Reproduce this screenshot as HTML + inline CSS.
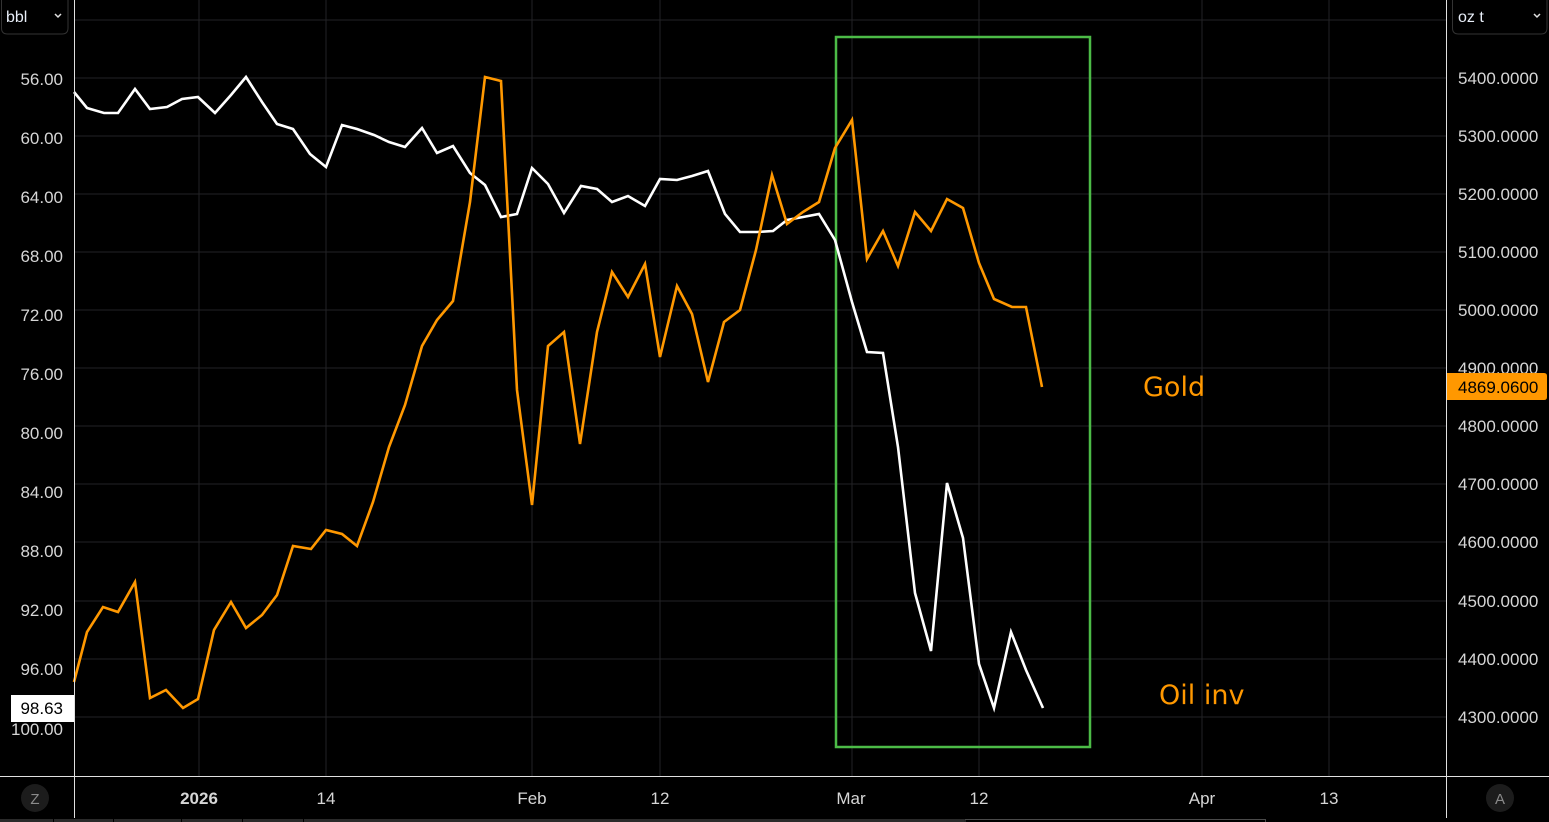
<!DOCTYPE html>
<html><head><meta charset="utf-8"><style>
html,body{margin:0;padding:0;background:#000;}
svg{display:block;}
text{font-family:"Liberation Sans",sans-serif;}
</style></head><body>
<svg width="1549" height="822" viewBox="0 0 1549 822" xmlns="http://www.w3.org/2000/svg">
<rect width="1549" height="822" fill="#000"/>
<!-- grid -->
<g stroke="#222226" stroke-width="1">
<line x1="74" y1="20" x2="1447" y2="20"/>
<line x1="74" y1="78" x2="1447" y2="78"/>
<line x1="74" y1="136" x2="1447" y2="136"/>
<line x1="74" y1="194" x2="1447" y2="194"/>
<line x1="74" y1="252" x2="1447" y2="252"/>
<line x1="74" y1="310" x2="1447" y2="310"/>
<line x1="74" y1="368" x2="1447" y2="368"/>
<line x1="74" y1="426" x2="1447" y2="426"/>
<line x1="74" y1="484" x2="1447" y2="484"/>
<line x1="74" y1="542" x2="1447" y2="542"/>
<line x1="74" y1="601" x2="1447" y2="601"/>
<line x1="74" y1="659" x2="1447" y2="659"/>
<line x1="74" y1="717" x2="1447" y2="717"/>
<line x1="199" y1="0" x2="199" y2="776"/>
<line x1="326" y1="0" x2="326" y2="776"/>
<line x1="532" y1="0" x2="532" y2="776"/>
<line x1="660" y1="0" x2="660" y2="776"/>
<line x1="852" y1="0" x2="852" y2="776"/>
<line x1="979" y1="0" x2="979" y2="776"/>
<line x1="1202" y1="0" x2="1202" y2="776"/>
<line x1="1329" y1="0" x2="1329" y2="776"/>
</g>
<!-- green box -->
<rect x="836" y="37" width="254" height="710" fill="none" stroke="#4cbb47" stroke-width="2.5"/>
<!-- white line -->
<polyline fill="none" stroke="#ffffff" stroke-width="2.6" stroke-linejoin="miter" points="74,92 87,108 104,113 118,113 135,89 150,109 167,107 182,99 198,97 215,113 231,95 246,77 262,102 277,124 293,129 310,154 326,167 342,125 357,129 374,135 389,142 405,147 422,128 437,153 453,146 470,173 485,185 501,217 517,214 532,168 548,184 564,213 581,186 597,189 612,202 628,196 645,206 660,179 677,180 692,176 708,171 725,214 740,232 757,232 773,231 787,220 803,217 819,214 835,240 852,302 867,352 883,353 898,447 915,593 931,651 947,483 963,538 979,664 994,708 1011,632 1026,670 1043,708"/>
<!-- orange line -->
<polyline fill="none" stroke="#ff9800" stroke-width="2.6" stroke-linejoin="miter" points="74,682 87,632 103,607 118,612 135,582 150,698 166,690 183,708 198,699 214,630 231,602 246,628 262,615 277,595 293,546 311,549 326,530 342,534 357,546 373,502 389,447 405,405 422,346 437,320 453,301 470,202 485,77 501,81 517,390 532,505 548,346 564,332 580,444 597,332 612,272 628,297 645,264 660,357 677,286 692,314 708,382 724,322 740,310 756,250 772,175 787,224 803,212 819,202 835,148 852,120 867,259 883,231 898,266 915,212 931,231 947,199 963,208 979,263 994,299 1012,307 1026,307 1042,387"/>
<!-- annotations -->
<text x="1143" y="396" fill="#ff9800" style="font-family:'DejaVu Sans',sans-serif;font-size:27px;">Gold</text>
<text x="1159" y="704" fill="#ff9800" style="font-family:'DejaVu Sans',sans-serif;font-size:27px;">Oil inv</text>
<!-- axes lines -->
<line x1="74.5" y1="0" x2="74.5" y2="818" stroke="#e0e0e0" stroke-width="1"/>
<line x1="1446.5" y1="0" x2="1446.5" y2="818" stroke="#e0e0e0" stroke-width="1"/>
<line x1="0" y1="776.5" x2="1549" y2="776.5" stroke="#e0e0e0" stroke-width="1"/>
<!-- left axis labels -->
<g fill="#d6d6d6" font-size="17" text-anchor="end">
<text x="63" y="85">56.00</text>
<text x="63" y="144">60.00</text>
<text x="63" y="203">64.00</text>
<text x="63" y="262">68.00</text>
<text x="63" y="321">72.00</text>
<text x="63" y="380">76.00</text>
<text x="63" y="439">80.00</text>
<text x="63" y="498">84.00</text>
<text x="63" y="557">88.00</text>
<text x="63" y="616">92.00</text>
<text x="63" y="675">96.00</text>
<text x="63" y="735">100.00</text>
</g>
<rect x="11" y="695" width="63" height="27" fill="#ffffff"/>
<text x="63" y="714" fill="#000" font-size="17" text-anchor="end">98.63</text>
<!-- right axis labels -->
<g fill="#d6d6d6" font-size="17">
<text x="1458" y="84">5400.0000</text>
<text x="1458" y="142">5300.0000</text>
<text x="1458" y="200">5200.0000</text>
<text x="1458" y="258">5100.0000</text>
<text x="1458" y="316">5000.0000</text>
<text x="1458" y="374">4900.0000</text>
<text x="1458" y="432">4800.0000</text>
<text x="1458" y="490">4700.0000</text>
<text x="1458" y="548">4600.0000</text>
<text x="1458" y="607">4500.0000</text>
<text x="1458" y="665">4400.0000</text>
<text x="1458" y="723">4300.0000</text>
</g>
<path d="M1447 373 H1544 Q1547 373 1547 376 V397 Q1547 400 1544 400 H1447 Z" fill="#ff9800"/>
<text x="1458" y="393" fill="#000" font-size="17">4869.0600</text>
<!-- bottom axis labels -->
<g fill="#d6d6d6" font-size="17" text-anchor="middle">
<text x="199" y="804" font-weight="bold">2026</text>
<text x="326" y="804">14</text>
<text x="532" y="804">Feb</text>
<text x="660" y="804">12</text>
<text x="851" y="804">Mar</text>
<text x="979" y="804">12</text>
<text x="1202" y="804">Apr</text>
<text x="1329" y="804">13</text>
</g>
<!-- Z / A buttons -->
<circle cx="35" cy="798" r="14" fill="#1c1c1c"/>
<text x="35" y="804" fill="#8a8a8a" font-size="15" text-anchor="middle">Z</text>
<circle cx="1500" cy="798" r="14" fill="#1c1c1c"/>
<text x="1500" y="804" fill="#8a8a8a" font-size="15" text-anchor="middle">A</text>
<!-- bottom strip -->
<g fill="#2a2a2a">
<rect x="0" y="819" width="53" height="3"/>
<rect x="54" y="819" width="59" height="3"/>
<rect x="114" y="819" width="67" height="3"/>
<rect x="182" y="819" width="60" height="3"/>
<rect x="243" y="819" width="60" height="3"/>
<rect x="304" y="819" width="660" height="3"/>
</g>
<path d="M965 822 V819.5 H1265.5 V822" fill="none" stroke="#4a4a4a" stroke-width="1"/>
<!-- top dropdowns -->
<path d="M1.5 -2 V28 Q1.5 34 7.5 34 H62 Q68 34 68 28 V-2" fill="#000" stroke="#333" stroke-width="1"/>
<text x="6" y="22" fill="#e8eef8" font-size="16">bbl</text>
<path d="M55 14 L58 17 L61 14" fill="none" stroke="#e0e0e0" stroke-width="1.5"/>
<path d="M1452.5 -2 V28 Q1452.5 34 1458.5 34 H1541 Q1547 34 1547 28 V-2" fill="#000" stroke="#333" stroke-width="1"/>
<text x="1458" y="22" fill="#e8eef8" font-size="16">oz t</text>
<path d="M1534 14 L1537 17 L1540 14" fill="none" stroke="#e0e0e0" stroke-width="1.5"/>
</svg>
</body></html>
